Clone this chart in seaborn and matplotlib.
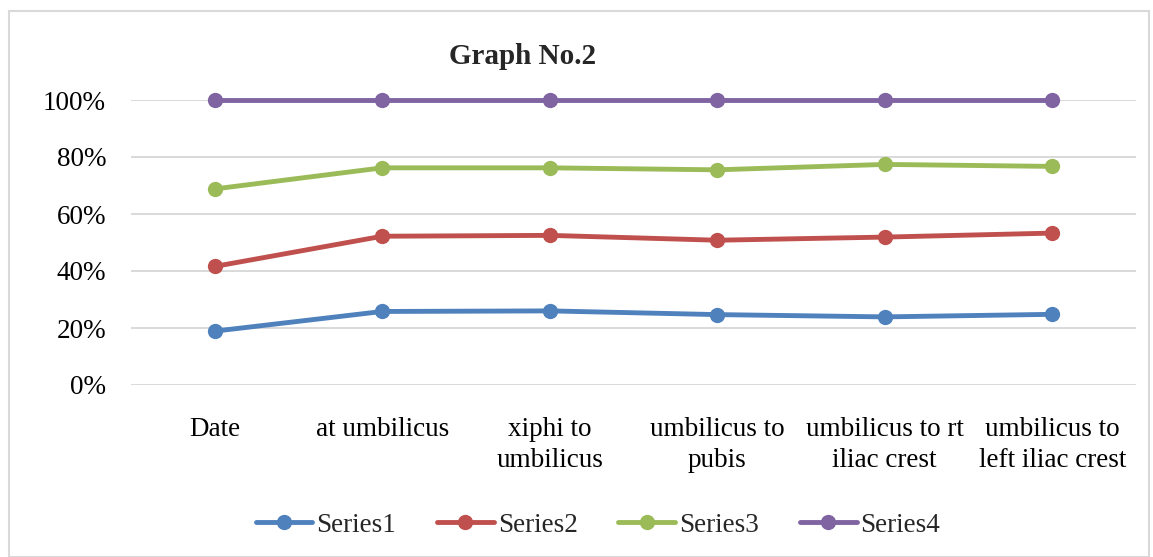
import pandas as pd
import matplotlib
matplotlib.use("Agg")
import matplotlib.pyplot as plt
import seaborn as sns
from matplotlib.patches import Rectangle
from matplotlib.ticker import PercentFormatter

# data
positions = ["Date", "at umbilicus", "xiphi to\numbilicus", "umbilicus to\npubis",
	"umbilicus to rt\niliac crest", "umbilicus to\nleft iliac crest"]
series1 = [0.189, 0.258, 0.260, 0.247, 0.239, 0.248]
series2 = [0.416, 0.522, 0.525, 0.508, 0.519, 0.533]
series3 = [0.688, 0.762, 0.762, 0.755, 0.774, 0.767]
series4 = [1.0, 1.0, 1.0, 1.0, 1.0, 1.0]
series_names = ["Series1", "Series2", "Series3", "Series4"]
colors = ["#4F81BD", "#C0504D", "#9BBB59", "#8064A2"]

rows = []
for name, values in zip(series_names, [series1, series2, series3, series4]):
	for pos, v in zip(positions, values):
		rows.append({"position": pos, "value": v, "series": name})
df = pd.DataFrame(rows)

sns.set_theme(style="white")
plt.rcParams["font.family"] = ["Liberation Serif", "DejaVu Serif"]

fig = plt.figure(figsize=(11.53, 5.57), dpi=100)
ax = fig.add_axes([131 / 1153, 1 - 385 / 557, (1136 - 131) / 1153, 285 / 557])

sns.lineplot(data=df, x="position", y="value", hue="series", palette=colors,
	marker="o", markersize=11, markeredgewidth=0, linewidth=3.5, sort=False, ax=ax)

for line in ax.lines:
	line.set_clip_on(False)

ax.set_xlim(-0.5, len(positions) - 0.5)
ax.set_ylim(0, 1.0)
ax.set_yticks([0, 0.2, 0.4, 0.6, 0.8, 1.0])
ax.yaxis.set_major_formatter(PercentFormatter(1.0, decimals=0))
ax.set_xlabel("")
ax.set_ylabel("")
ax.tick_params(axis="both", length=0, labelsize=19.5, colors="#000000")
ax.tick_params(axis="y", pad=18)
ax.tick_params(axis="x", pad=23)
for lbl in ax.get_xticklabels():
	lbl.set_linespacing(1.3)
ax.grid(axis="y", color="#D9D9D9", linewidth=1.4)
ax.set_axisbelow(True)
for s in ax.spines.values():
	s.set_visible(False)

fig.text(523 / 1153, 1 - 57 / 557, "Graph No.2", ha="center", va="center",
	fontsize=21, fontweight="bold")

handles, labels = ax.get_legend_handles_labels()
ax.legend_.remove()
fig.legend(handles, labels, loc="center", bbox_to_anchor=(598 / 1153, 1 - 525 / 557),
	ncol=4, frameon=False, fontsize=19.5, handlelength=2.1, handletextpad=0.15,
	columnspacing=1.5)

fig.patches.append(Rectangle((8.5 / 1153, 0.5 / 557), (1149 - 8.5) / 1153, (546 - 0.5) / 557,
	transform=fig.transFigure, fill=False, edgecolor="#D9D9D9", linewidth=1.5))

fig.savefig("out.png", dpi=100, facecolor="white")
